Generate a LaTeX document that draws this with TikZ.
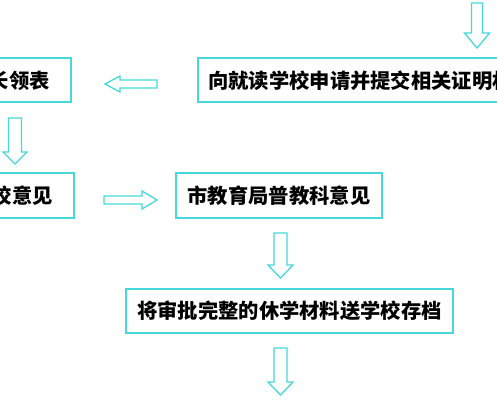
\documentclass[tikz,border=0pt]{standalone}
\usepackage{fontspec}
\newfontfamily\cjk{Noto Sans CJK SC}
\begin{document}
\begin{tikzpicture}[x=1pt,y=-1pt,
  boxline/.style={draw=cyanline,line width=2.6pt,fill=white},
  arrowline/.style={draw=cyanline,line width=1.3pt,fill=white,line join=miter},
  label/.style={inner sep=0pt,font=\cjk\bfseries\fontsize{20.3}{20.3}\selectfont,text=black}]
\definecolor{cyanline}{RGB}{70,216,218}
\useasboundingbox (0,0) rectangle (497,400);
\clip (0,0) rectangle (497,400);
\fill[white] (0,0) rectangle (497,400);
% boxes
\draw[boxline] (198,58) rectangle (530,102);
\draw[boxline] (-30,58) rectangle (71,102);
\draw[boxline] (-30,173) rectangle (74,218);
\draw[boxline] (176,173) rectangle (382,218);
\draw[boxline] (126,289) rectangle (453,333);
% texts
\node[label,anchor=west] (t1) at (208,81) {向就读学校申请并提交相关证明材};
\node[label,anchor=east] (t2) at (50,81) {长领表};
\node[label,anchor=east] (t3) at (53,196) {校意见};
\node[label] (t4) at (279,196) {市教育局普教科意见};
\node[label] (t5) at (289.5,311) {将审批完整的休学材料送学校存档};
% block arrows
\newcommand{\downarr}[6]{% cx, top, headbase, tip, shafthalf, headhalf
  \draw[arrowline] (#1-#5,#2) -- (#1+#5,#2) -- (#1+#5,#3) -- (#1+#6,#3) -- (#1,#4)
    -- (#1-#6,#3) -- (#1-#5,#3) -- cycle;}
\downarr{477}{3}{33}{48}{5.5}{12.5}
\downarr{15}{118}{152}{164}{6.5}{12}
\downarr{280.5}{233}{265}{278}{6.5}{12.5}
\downarr{280.5}{348}{382}{395}{6.5}{12.5}
% left arrow
\draw[arrowline] (157,80) -- (120,80) -- (120,76) -- (105,84) -- (120,92) -- (120,88) -- (157,88) -- cycle;
% right arrow
\draw[arrowline] (104,196) -- (142,196) -- (142,191) -- (157,200) -- (142,209) -- (142,204) -- (104,204) -- cycle;
\end{tikzpicture}
\end{document}
